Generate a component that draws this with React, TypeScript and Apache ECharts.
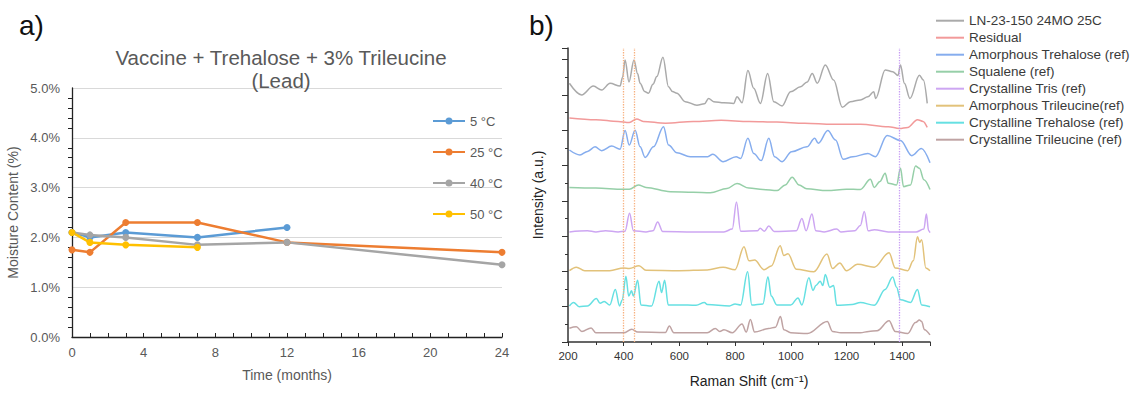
import React, { useEffect, useRef } from "react";
import * as echarts from "echarts";

const FONT = "'Liberation Sans', Arial, sans-serif";

// ---------- Panel a: moisture content ----------
const tempNames = ["5 °C", "25 °C", "40 °C", "50 °C"];
const tempColors = ["#5B9BD5", "#ED7D31", "#A5A5A5", "#FFC000"];
const months5 = [0, 1, 3, 7, 12];
const moisture5 = [2.1, 2.0, 2.1, 2.0, 2.2];
const months25 = [0, 1, 3, 7, 12, 24];
const moisture25 = [1.75, 1.7, 2.3, 2.3, 1.9, 1.7];
const months40 = [0, 1, 3, 7, 12, 24];
const moisture40 = [2.1, 2.05, 2.0, 1.85, 1.9, 1.45];
const months50 = [0, 1, 3, 7];
const moisture50 = [2.1, 1.9, 1.85, 1.8];

// ---------- Panel b: Raman spectra (wavenumber, stacked intensity) ----------
const specNames = [
  "LN-23-150 24MO 25C",
  "Residual",
  "Amorphous Trehalose (ref)",
  "Squalene (ref)",
  "Crystalline Tris (ref)",
  "Amorphous Trileucine(ref)",
  "Crystalline Trehalose (ref)",
  "Crystalline Trileucine (ref)",
];
const specColors = ["#aaaaaa", "#f29a9a", "#86adee", "#96cfa8", "#cda6f2", "#e2c27a", "#66e0e2", "#bfa3a3"];

const sampleSpec = [[205,7.33],[249,7.0],[291,7.25],[321,7.14],[351,7.33],[387,7.25],[396,7.5],[405,7.99],[419,7.37],[437,7.99],[450,7.6],[459,7.33],[475,7.1],[489,7.05],[505,7.3],[519,7.52],[541,8.07],[561,7.23],[575,7.1],[591,7.05],[621,6.81],[663,6.71],[690,6.75],[705,6.9],[723,6.81],[760,6.78],[795,6.76],[807,6.95],[825,6.78],[846,7.69],[867,7.19],[891,6.76],[917,7.61],[939,6.81],[969,6.69],[999,7.09],[1035,7.23],[1059,7.37],[1077,7.61],[1095,7.33],[1124,7.85],[1154,7.42],[1185,6.65],[1214,6.81],[1250,6.86],[1277,6.95],[1298,7.09],[1305,6.9],[1339,7.71],[1366,7.66],[1385,7.55],[1394,7.85],[1408,7.33],[1428,6.9],[1462,7.56],[1476,7.42],[1490,6.76]];
const residualSpec = [[205,6.35],[300,6.3],[380,6.25],[420,6.22],[447,6.32],[470,6.25],[550,6.2],[650,6.25],[750,6.28],[850,6.25],[950,6.23],[1050,6.2],[1150,6.17],[1250,6.17],[1350,6.1],[1390,6.05],[1420,6.08],[1455,6.3],[1475,6.25],[1490,6.08]];
const amorphTrehSpec = [[205,5.44],[243,5.3],[270,5.4],[297,5.53],[321,5.42],[357,5.55],[387,5.46],[405,5.99],[420,5.58],[441,6.0],[459,5.53],[477,5.23],[507,5.53],[543,6.1],[561,5.58],[591,5.36],[639,5.25],[702,5.25],[720,5.32],[757,5.11],[804,5.25],[820,5.2],[846,5.77],[867,5.34],[894,5.14],[921,5.77],[942,5.25],[969,5.11],[1003,5.39],[1058,5.53],[1086,5.77],[1099,5.63],[1133,5.99],[1161,5.72],[1188,5.18],[1223,5.25],[1277,5.34],[1304,5.25],[1346,5.85],[1394,5.71],[1435,5.28],[1469,5.48],[1500,5.08]];
const squaleneSpec = [[205,4.38],[300,4.36],[398,4.33],[420,4.33],[453,4.45],[480,4.38],[567,4.26],[650,4.24],[711,4.23],[771,4.35],[807,4.49],[850,4.36],[900,4.32],[951,4.29],[980,4.45],[1005,4.67],[1030,4.45],[1057,4.34],[1130,4.29],[1200,4.33],[1250,4.32],[1286,4.61],[1300,4.38],[1320,4.55],[1339,4.78],[1350,4.5],[1380,4.45],[1394,4.92],[1405,4.4],[1430,4.45],[1448,4.99],[1462,4.92],[1478,4.6],[1500,4.32]];
const trisSpec = [[205,3.12],[270,3.15],[300,3.12],[335,3.15],[380,3.12],[405,3.14],[421,3.65],[435,3.15],[480,3.12],[505,3.15],[522,3.4],[540,3.13],[650,3.12],[760,3.12],[790,3.2],[805,3.97],[820,3.14],[880,3.15],[890,3.22],[905,3.14],[921,3.29],[940,3.13],[1020,3.15],[1040,3.5],[1055,3.15],[1076,3.63],[1090,3.15],[1120,3.12],[1165,3.2],[1180,3.12],[1230,3.15],[1250,3.3],[1264,3.7],[1278,3.15],[1300,3.18],[1350,3.12],[1450,3.12],[1478,3.2],[1487,3.63],[1495,3.15],[1500,3.1]];
const amorphTrileuSpec = [[205,2.02],[230,2.12],[260,2.02],[350,2.02],[400,2.1],[420,2.08],[455,2.16],[480,2.03],[600,2.02],[700,2.04],[757,2.12],[800,2.05],[832,2.7],[850,2.3],[870,2.32],[904,2.05],[930,2.15],[962,2.73],[975,2.45],[990,2.5],[1020,2.06],[1083,1.99],[1130,2.49],[1150,2.08],[1176,2.24],[1200,2.02],[1240,2.2],[1300,2.12],[1353,2.53],[1375,2.1],[1420,2.02],[1440,2.3],[1455,2.98],[1463,2.82],[1470,2.9],[1485,2.1],[1500,2.02]];
const crystTrehSpec = [[205,1.02],[220,1.12],[240,1.0],[270,1.02],[302,1.23],[315,1.1],[330,1.15],[350,1.05],[370,1.49],[385,1.02],[395,1.2],[408,1.86],[418,1.3],[428,1.45],[435,1.3],[450,1.75],[462,1.05],[500,1.02],[527,1.72],[536,1.4],[547,1.75],[560,1.05],[600,1.05],[660,1.04],[690,1.12],[700,1.06],[780,1.02],[800,1.08],[820,1.05],[845,1.99],[860,1.05],[900,1.08],[918,1.85],[930,1.3],[950,1.05],[1000,1.05],[1026,1.25],[1040,1.05],[1065,1.82],[1080,1.46],[1090,1.6],[1106,1.72],[1115,1.6],[1124,1.91],[1140,1.55],[1154,1.6],[1165,1.04],[1220,1.06],[1250,1.12],[1300,1.04],[1339,1.49],[1366,1.84],[1380,1.55],[1394,1.2],[1430,1.12],[1455,1.49],[1470,1.05],[1500,1.0]];
const crystTrileuSpec = [[205,0.39],[230,0.43],[250,0.3],[283,0.4],[300,0.26],[400,0.26],[429,0.36],[450,0.28],[550,0.27],[564,0.45],[580,0.26],[700,0.26],[729,0.38],[745,0.3],[760,0.35],[790,0.26],[825,0.51],[840,0.28],[855,0.64],[870,0.28],[920,0.38],[945,0.42],[963,0.72],[975,0.35],[1000,0.26],[1060,0.24],[1131,0.58],[1150,0.3],[1180,0.26],[1250,0.26],[1280,0.3],[1310,0.32],[1353,0.6],[1375,0.3],[1420,0.24],[1448,0.55],[1462,0.62],[1470,0.58],[1480,0.35],[1500,0.2]];
const spectra = [sampleSpec, residualSpec, amorphTrehSpec, squaleneSpec, trisSpec, amorphTrileuSpec, crystTrehSpec, crystTrileuSpec];

const orangeMarks = [400, 437];
const purpleMarks = [1390];

const pair = (xs: number[], ys: number[]) => xs.map((x, i) => [x, ys[i]]);

// legend icons: plain line, and line with a small round marker
const LINE_ICON = "path://M0,0 L28,0 L28,2 L0,2 Z";
const MARKER_ICON =
  "path://M0,2.4 L12.6,2.4 L12.6,4.6 L0,4.6 Z M19.4,2.4 L32,2.4 L32,4.6 L19.4,4.6 Z M12.5,3.5 A3.5,3.5 0 1,0 19.5,3.5 A3.5,3.5 0 1,0 12.5,3.5 Z";

export default function App() {
  const ref = useRef<HTMLDivElement>(null);
  useEffect(() => {
    if (!ref.current) return;
    const chart = echarts.init(ref.current, undefined, { renderer: "svg" });
    const tempData = [pair(months5, moisture5), pair(months25, moisture25), pair(months40, moisture40), pair(months50, moisture50)];
    const lineSeries = tempNames.map((n, i) => ({
      name: n,
      type: "line",
      xAxisIndex: 0,
      yAxisIndex: 0,
      data: tempData[i],
      symbol: "circle",
      symbolSize: 7,
      lineStyle: { width: 2.5, color: tempColors[i] },
      itemStyle: { color: tempColors[i] },
    }));
    const specSeries = specNames.map((n, i) => ({
      name: n,
      type: "line",
      xAxisIndex: 1,
      yAxisIndex: 1,
      data: spectra[i],
      symbol: "none",
      smooth: 0.35,
      smoothMonotone: "x",
      lineStyle: { width: 1.5, color: specColors[i] },
      itemStyle: { color: specColors[i] },
      markLine:
        i === 7
          ? {
              silent: true,
              symbol: "none",
              label: { show: false },
              data: [
                ...orangeMarks.map((v) => ({ xAxis: v, lineStyle: { color: "#f7b07e", type: "dotted", width: 1.3 } })),
                ...purpleMarks.map((v) => ({ xAxis: v, lineStyle: { color: "#c79cf4", type: "dotted", width: 1.3 } })),
              ],
            }
          : undefined,
    }));
    chart.setOption({
      animation: false,
      backgroundColor: "#ffffff",
      textStyle: { fontFamily: FONT },
      title: [
        {
          text: "Vaccine + Trehalose + 3% Trileucine\n(Lead)",
          left: 276,
          top: 41,
          textAlign: "center",
          textStyle: { fontSize: 20.5, fontWeight: "normal", color: "#595959", lineHeight: 23, fontFamily: FONT },
        },
        { text: "a)", left: 14, top: 6, textStyle: { fontSize: 28, fontWeight: "normal", color: "#111", fontFamily: FONT } },
        { text: "b)", left: 524, top: 6, textStyle: { fontSize: 28, fontWeight: "normal", color: "#111", fontFamily: FONT } },
      ],
      legend: [
        {
          data: tempNames,
          orient: "vertical",
          left: 428,
          top: 109,
          icon: MARKER_ICON,
          itemWidth: 32,
          itemHeight: 7,
          itemGap: 17,
          textStyle: { fontSize: 13, color: "#595959", lineHeight: 14, fontFamily: FONT },
        },
        {
          data: specNames,
          orient: "vertical",
          left: 931,
          top: 8.7,
          icon: LINE_ICON,
          itemWidth: 28,
          itemHeight: 2,
          itemGap: 3,
          textStyle: { fontSize: 13.5, color: "#3a3a3a", lineHeight: 14, fontFamily: FONT },
        },
      ],
      grid: [
        { left: 72, top: 88, width: 430, height: 249 },
        { left: 568, top: 48, width: 362, height: 294 },
      ],
      xAxis: [
        {
          type: "value",
          gridIndex: 0,
          min: 0,
          max: 24,
          interval: 4,
          name: "Time (months)",
          nameLocation: "middle",
          nameGap: 31,
          nameTextStyle: { fontSize: 14, color: "#595959" },
          axisLine: { lineStyle: { color: "#222", width: 1.3 } },
          axisTick: { inside: true, length: 4, lineStyle: { color: "#222" } },
          minorTick: { show: true, splitNumber: 4, length: 4, lineStyle: { color: "#222" } },
          axisLabel: { fontSize: 13, color: "#595959", margin: 9 },
          splitLine: { show: false },
        },
        {
          type: "value",
          gridIndex: 1,
          min: 200,
          max: 1500,
          interval: 200,
          name: "Raman Shift (cm⁻¹)",
          nameLocation: "middle",
          nameGap: 32,
          nameTextStyle: { fontSize: 14, color: "#222" },
          axisLine: { lineStyle: { color: "#333", width: 1.5 } },
          axisTick: { length: 4, lineStyle: { color: "#333" } },
          minorTick: { show: true, splitNumber: 2, length: 3, lineStyle: { color: "#333" } },
          axisLabel: { fontSize: 11.5, color: "#333", margin: 8, showMaxLabel: false, formatter: (v: number) => String(v) },
          splitLine: { show: false },
        },
      ],
      yAxis: [
        {
          type: "value",
          gridIndex: 0,
          min: 0,
          max: 5,
          interval: 1,
          name: "Moisture Content (%)",
          nameLocation: "middle",
          nameGap: 52,
          nameTextStyle: { fontSize: 14, color: "#595959" },
          axisLine: { show: true, lineStyle: { color: "#222", width: 1.3 } },
          axisTick: { show: false },
          minorTick: { show: true, splitNumber: 5, length: 4, lineStyle: { color: "#222" } },
          axisLabel: { fontSize: 13, color: "#595959", margin: 12, formatter: (v: number) => v.toFixed(1) + "%" },
          splitLine: { lineStyle: { color: "#d9d9d9", width: 1 } },
        },
        {
          type: "value",
          gridIndex: 1,
          min: 0,
          max: 8.33,
          interval: 1,
          name: "Intensity (a.u.)",
          nameLocation: "middle",
          nameGap: 23,
          nameTextStyle: { fontSize: 14, color: "#222" },
          axisLine: { show: true, lineStyle: { color: "#333", width: 1.5 } },
          axisTick: { show: true, length: 6, lineStyle: { color: "#333" } },
          minorTick: { show: true, splitNumber: 2, length: 3, lineStyle: { color: "#333" } },
          axisLabel: { show: false },
          splitLine: { show: false },
        },
      ],
      series: [...lineSeries, ...specSeries],
    });
    return () => chart.dispose();
  }, []);
  return <div ref={ref} style={{ position: "fixed", left: 0, top: 0, width: 1134, height: 394, background: "#fff" }} />;
}
